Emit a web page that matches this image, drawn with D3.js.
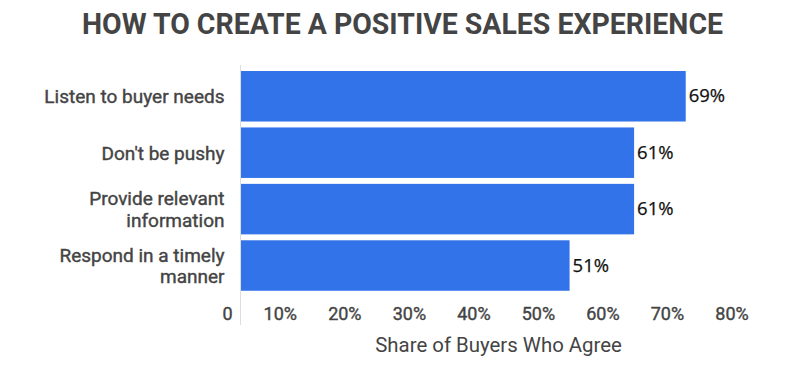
<!DOCTYPE html>
<html>
<head>
<meta charset="utf-8">
<script src="https://cdn.jsdelivr.net/npm/d3@7"></script>
<style>
  body { margin: 0; background: #fff; }
  svg { display: block; }
</style>
</head>
<body>
<svg id="chart" width="800" height="368"></svg>
<script>
var title = "HOW TO CREATE A POSITIVE SALES EXPERIENCE";
var categories = ["Listen to buyer needs", "Don't be pushy", "Provide relevant information", "Respond in a timely manner"];
var values = [69, 61, 61, 51];
var tickValues = [0, 10, 20, 30, 40, 50, 60, 70, 80];
var xTitle = "Share of Buyers Who Agree";

var svg = d3.select("#chart");

var x = d3.scaleLinear()
    .domain([0, 80])
    .range([240.5, 756.7]);

var y = d3.scaleBand()
    .domain(categories)
    .range([68.2, 293.6])
    .paddingInner(0.105)
    .paddingOuter(0.05);

// title
svg.append("text")
    .attr("x", 402.5)
    .attr("y", 34)
    .attr("text-anchor", "middle")
    .attr("textLength", 641)
    .attr("lengthAdjust", "spacingAndGlyphs")
    .style("font-family", "Roboto, sans-serif")
    .style("font-weight", "bold")
    .style("font-size", "29px")
    .style("fill", "#444")
    .text(title);

// bars
svg.append("g")
  .selectAll("rect")
    .data(values)
  .enter().append("rect")
    .attr("x", x(0))
    .attr("y", function(d, i) { return y(categories[i]); })
    .attr("width", function(d) { return x(d) - x(0); })
    .attr("height", y.bandwidth())
    .style("fill", "#3273e9");

// vertical axis line
svg.append("line")
    .attr("x1", x(0)).attr("x2", x(0))
    .attr("y1", 65).attr("y2", 325)
    .style("stroke", "#ddd")
    .style("stroke-width", 1);

// value labels
svg.append("g")
  .selectAll("text")
    .data(values)
  .enter().append("text")
    .attr("x", function(d) { return x(d) + 3; })
    .attr("y", function(d, i) { return y(categories[i]) + y.bandwidth() / 2 + 6; })
    .style("font-family", "'Open Sans', sans-serif")
    .style("font-size", "18.5px")
    .style("fill", "#111")
    .style("stroke", "#111")
    .style("stroke-width", 0.25)
    .text(function(d) { return d + "%"; });

// category labels, wrapped
var catG = svg.append("g");
categories.forEach(function(c) {
  var cy = y(c) + y.bandwidth() / 2;
  var t = catG.append("text")
      .attr("x", x(0) - 16)
      .attr("text-anchor", "end")
      .style("font-family", "Roboto, sans-serif")
      .style("font-size", "19px")
      .style("fill", "#444")
      .style("stroke", "#444")
      .style("stroke-width", 0.4);
  var words = c.split(" "), lines = [], line = [];
  var probe = t.append("tspan");
  words.forEach(function(w) {
    line.push(w);
    probe.text(line.join(" "));
    if (probe.node().getComputedTextLength() > 185 && line.length > 1) {
      line.pop();
      lines.push(line.join(" "));
      line = [w];
    }
  });
  lines.push(line.join(" "));
  probe.remove();
  var lh = 21.7;
  lines.forEach(function(l, i) {
    t.append("tspan")
        .attr("x", x(0) - 16)
        .attr("y", cy + 7 + (i - (lines.length - 1) / 2) * lh)
        .text(l);
  });
});

// x axis
var xAxis = svg.append("g")
    .attr("transform", "translate(0,320)")
    .call(d3.axisBottom(x)
        .tickValues(tickValues)
        .tickSize(0)
        .tickFormat(function(d) { return d === 0 ? "0" : d + "%"; }));
xAxis.select(".domain").remove();
xAxis.selectAll("text")
    .attr("y", 0)
    .attr("dy", 0)
    .attr("x", -8.5)
    .attr("text-anchor", "end")
    .style("font-family", "Roboto, sans-serif")
    .style("font-size", "18px")
    .style("fill", "#444")
    .style("stroke", "#444")
    .style("stroke-width", 0.4);

// x axis title
svg.append("text")
    .attr("x", (x(0) + x(80)) / 2)
    .attr("y", 351.7)
    .attr("text-anchor", "middle")
    .style("font-family", "Roboto, sans-serif")
    .style("font-size", "20.4px")
    .style("fill", "#444")
    .text(xTitle);
</script>
</body>
</html>
